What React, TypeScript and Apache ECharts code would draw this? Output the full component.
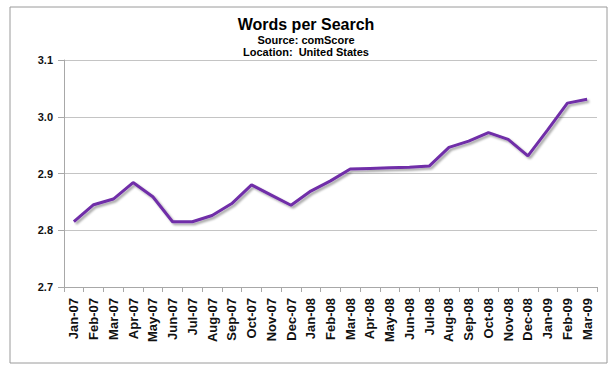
import React, { useEffect, useRef } from "react";
import * as echarts from "echarts";

const categories = [
  "Jan-07", "Feb-07", "Mar-07", "Apr-07", "May-07", "Jun-07", "Jul-07", "Aug-07", "Sep-07",
  "Oct-07", "Nov-07", "Dec-07", "Jan-08", "Feb-08", "Mar-08", "Apr-08", "May-08", "Jun-08",
  "Jul-08", "Aug-08", "Sep-08", "Oct-08", "Nov-08", "Dec-08", "Jan-09", "Feb-09", "Mar-09",
];
const wordsPerSearch = [
  2.815, 2.845, 2.855, 2.884, 2.859, 2.815, 2.815, 2.826, 2.847,
  2.88, 2.862, 2.844, 2.869, 2.887, 2.908, 2.909, 2.91, 2.911,
  2.913, 2.946, 2.957, 2.972, 2.96, 2.931, 2.977, 3.024, 3.031,
];
const titleText = "Words per Search";
const subtitleLines = ["Source: comScore", "Location:  United States"];
const yMin = 2.7;
const yMax = 3.1;
const yStep = 0.1;

const FONT = "Arial, 'Liberation Sans', sans-serif";

export default function App() {
  const ref = useRef<HTMLDivElement>(null);
  useEffect(() => {
    if (!ref.current) return;
    const chart = echarts.init(ref.current, undefined, { renderer: "svg" });
    chart.setOption({
      animation: false,
      backgroundColor: "#ffffff",
      graphic: [
        {
          type: "rect",
          shape: { x: 10, y: 7, width: 597, height: 356 },
          style: { fill: "none", stroke: "#9a9a9a", lineWidth: 1 },
          silent: true,
        },
        {
          type: "text",
          x: 306,
          y: 24,
          style: {
            text: titleText,
            fontFamily: FONT,
            fontSize: 16,
            fontWeight: "bold",
            fill: "#000",
            textAlign: "center",
            textVerticalAlign: "middle",
          },
        },
        ...subtitleLines.map((t, i) => ({
          type: "text",
          x: 306,
          y: 39.5 + i * 12,
          style: {
            text: t,
            fontFamily: FONT,
            fontSize: 11,
            fontWeight: "bold",
            fill: "#000",
            textAlign: "center",
            textVerticalAlign: "middle",
          },
        })),
      ],
      grid: { left: 64, right: 19, top: 60, bottom: 84, containLabel: false },
      xAxis: {
        type: "category",
        data: categories,
        boundaryGap: true,
        axisLine: { show: true, lineStyle: { color: "#a8a8a8", width: 1 } },
        axisTick: { show: true, length: 5, lineStyle: { color: "#a8a8a8" } },
        axisLabel: {
          rotate: 90,
          interval: 0,
          margin: 11,
          fontFamily: FONT,
          fontSize: 13,
          fontWeight: "bold",
          color: "#111",
        },
        splitLine: { show: false },
      },
      yAxis: {
        type: "value",
        min: yMin,
        max: yMax,
        interval: yStep,
        axisLine: { show: true, lineStyle: { color: "#a8a8a8", width: 1 } },
        axisTick: { show: true, length: 6, lineStyle: { color: "#a8a8a8" } },
        axisLabel: {
          margin: 11,
          fontFamily: FONT,
          fontSize: 11,
          fontWeight: "bold",
          color: "#111",
          formatter: (v: number) => v.toFixed(1),
        },
        splitLine: { show: true, lineStyle: { color: "#c4c4c4", width: 1 } },
      },
      series: [
        {
          type: "line",
          data: wordsPerSearch,
          symbol: "none",
          lineStyle: {
            color: "#6f2da8",
            width: 3,
            shadowColor: "rgba(0,0,0,0.35)",
            shadowBlur: 2,
            shadowOffsetX: 2,
            shadowOffsetY: 2,
          },
        },
      ],
    });
    return () => chart.dispose();
  }, []);
  return (
    <div
      ref={ref}
      style={{ position: "fixed", left: 0, top: 0, width: 616, height: 371 }}
    />
  );
}
